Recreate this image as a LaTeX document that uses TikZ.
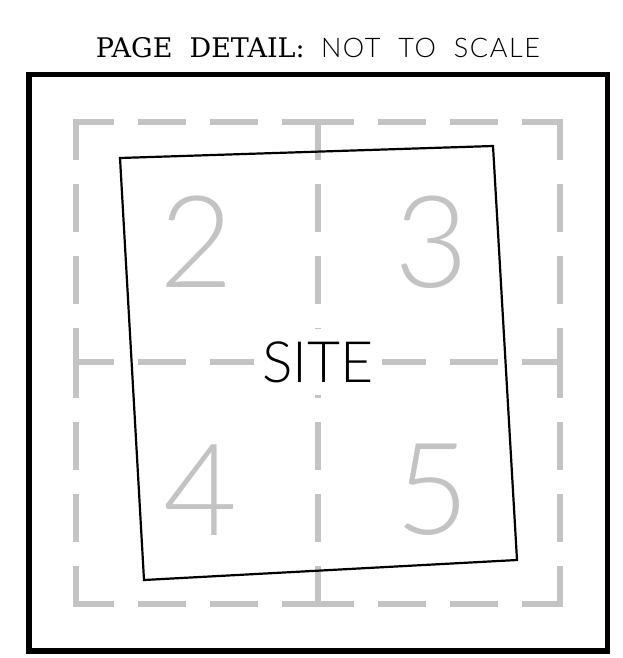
\documentclass[tikz,border=0pt]{standalone}
\usepackage{fontspec}
\newfontfamily\thinfont{Lato Light}
\newfontfamily\titlefont{DejaVu Serif}
\definecolor{gridgray}{RGB}{195,195,195}
\tikzset{
  gridline/.style={draw=gridgray, line width=5.5pt, line cap=rect,
    dash pattern=on 42.5pt off 29.5pt, dash phase=7.25pt},
  sheetnum/.style={text=gridgray, inner sep=0pt,
    font=\thinfont\fontsize{128}{128}\selectfont},
  sitelabel/.style={fill=white, inner sep=0pt, text depth=0pt,
    minimum width=128pt, minimum height=66pt,
    font=\thinfont\fontsize{57}{57}\selectfont},
}
\begin{document}
\begin{tikzpicture}[x=1pt,y=-1pt]
  \useasboundingbox (0,0) rectangle (623,658);
  % title
  \node (title) [anchor=base, inner sep=0pt] at (318,58)
    {\fontsize{27}{27}\selectfont{\titlefont PAGE\ \ DETAIL:}\ \ {\thinfont\addfontfeature{LetterSpace=6}NOT\ \ TO\ \ SCALE}};
  % sheet border
  \draw [line width=5.8pt] (29,74.5) rectangle (607.5,651);
  % page grid
  \coordinate (tl) at (76,122);  \coordinate (tm) at (318,122); \coordinate (tr) at (560,122);
  \coordinate (lm) at (76,362);  \coordinate (c)  at (318,362); \coordinate (rm) at (560,362);
  \coordinate (bl) at (76,604);  \coordinate (bm) at (318,604); \coordinate (br) at (560,604);
  \foreach \a/\b in {tl/tm, tr/tm, tr/rm, br/rm, br/bm, bl/bm, bl/lm, tl/lm, tm/c, bm/c, lm/c, rm/c}
    \draw [gridline] (\a) -- (\b);
  % page numbers
  \node (p2) [sheetnum] at (197,242) {2};
  \node (p3) [sheetnum] at (432,242) {3};
  \node (p4) [sheetnum] at (201,490) {4};
  \node (p5) [sheetnum] at (433,490) {5};
  \node (site) [sitelabel] at (c) {SITE};
  % site boundary
  \coordinate (s1) at (120,158);
  \coordinate (s2) at (493,146);
  \coordinate (s3) at (517,560);
  \coordinate (s4) at (144,580);
  \draw [line width=2.2pt, line join=miter] (s1) -- (s2) -- (s3) -- (s4) -- cycle;
\end{tikzpicture}
\end{document}
